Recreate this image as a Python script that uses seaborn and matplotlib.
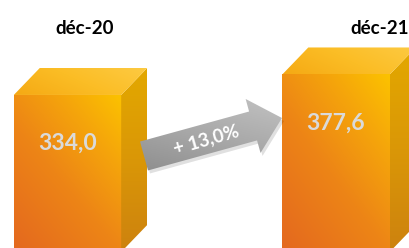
import numpy as np
import pandas as pd
import seaborn as sns
import matplotlib
matplotlib.use("Agg")
import matplotlib.pyplot as plt
from matplotlib.colors import LinearSegmentedColormap
from matplotlib.patches import Polygon, FancyArrow

# data
periods = ["déc-20", "déc-21"]
values = [334.0, 377.6]
value_labels = ["334,0", "377,6"]
growth_label = "+ 13,0%"

df = pd.DataFrame({"period": periods, "value": values})

W, H = 410, 248
plt.rcParams["font.family"] = ["Lato", "DejaVu Sans"]
fig = plt.figure(figsize=(W / 100, H / 100), dpi=100)
ax = fig.add_axes([0, 0, 1, 1])
sns.barplot(data=df, x="period", y="value", width=0.4, color="#f29a10", ax=ax, zorder=2)

x_lo, x_hi = -0.2514, 1.2756
y_lo, y_hi = 8.5, 536
ax.set_xlim(x_lo, x_hi)
ax.set_ylim(y_lo, y_hi)
ax.axis("off")

# depth of the fake 3d boxes (about 26 px right, 27 px up)
ddx = 26 * (x_hi - x_lo) / W
ddy = 27 * (y_hi - y_lo) / H

front_cmap = LinearSegmentedColormap.from_list(
    "front", [(0, "#e4681f"), (0.45, "#ed8516"), (0.75, "#f5a50b"), (1, "#fcc200")])
side_cmap = LinearSegmentedColormap.from_list("side", ["#cd820f", "#da9707", "#e3a800"])
top_cmap = LinearSegmentedColormap.from_list("top", ["#f5a914", "#fbbd25", "#fdca42"])
grey_cmap = LinearSegmentedColormap.from_list("grey", ["#c6c6c6", "#a9a9a9", "#8a8a8a"])

u, v = np.meshgrid(np.linspace(0, 1, 80), np.linspace(0, 1, 80))


def fill_gradient(axis, t, cmap, extent, clip, zorder, origin="lower"):
    im = axis.imshow(t, cmap=cmap, vmin=0, vmax=1, extent=extent, origin=origin,
                     aspect="auto", interpolation="bilinear", zorder=zorder)
    im.set_clip_path(clip)


for bar, lab in zip(ax.patches, value_labels):
    x0 = bar.get_x()
    x1 = x0 + bar.get_width()
    top = bar.get_height()

    # front face
    fill_gradient(ax, 0.55 * v + 0.45 * u, front_cmap, (x0, x1, 0, top), bar, 3)

    # right side face
    side = Polygon([(x1, 0), (x1 + ddx, ddy), (x1 + ddx, top + ddy), (x1, top)],
                   closed=True, transform=ax.transData)
    fill_gradient(ax, v, side_cmap, (x1, x1 + ddx, 0, top + ddy), side, 3)

    # top face
    lid = Polygon([(x0, top), (x1, top), (x1 + ddx, top + ddy), (x0 + ddx, top + ddy)],
                  closed=True, transform=ax.transData)
    fill_gradient(ax, 0.7 * u + 0.3 * v, top_cmap, (x0, x1 + ddx, top, top + ddy), lid, 3)

    ax.annotate(lab, xy=(x0 + bar.get_width() / 2, top), xytext=(0, -35),
                textcoords="offset points", ha="center", va="center",
                color="#dadada", fontsize=16.5, fontweight="bold", zorder=5)

# period headers
fig.text(85 / W, 1 - 28 / H, periods[0], ha="center", va="center",
         fontsize=13.5, fontweight="bold", color="black")
fig.text(409 / W, 1 - 28 / H, periods[1], ha="right", va="center",
         fontsize=13.5, fontweight="bold", color="black")

# overlay in pixel space for the growth arrow
ov = fig.add_axes([0, 0, 1, 1], zorder=5)
ov.set_xlim(0, W)
ov.set_ylim(H, 0)
ov.axis("off")
ov.patch.set_alpha(0)

tail = (144, 156)
tip = (282, 118)
dx, dy = tip[0] - tail[0], tip[1] - tail[1]
shadow = FancyArrow(tail[0] + 2, tail[1] + 3, dx, dy, width=30, head_width=56, head_length=30,
                    length_includes_head=True, color="black", alpha=0.12, lw=0)
ov.add_patch(shadow)
arrow = FancyArrow(tail[0], tail[1], dx, dy, width=30, head_width=56, head_length=30,
                   length_includes_head=True, facecolor="none", lw=0)
ov.add_patch(arrow)
fill_gradient(ov, 0.7 * v + 0.3 * (1 - u), grey_cmap, (135, 290, 180, 90), arrow, 2, origin="upper")

ov.text(206, 140, growth_label, rotation=16, rotation_mode="anchor", ha="center", va="center",
        color="white", fontsize=13.5, fontweight="bold", zorder=4)

plt.savefig("out.png", dpi=100)
